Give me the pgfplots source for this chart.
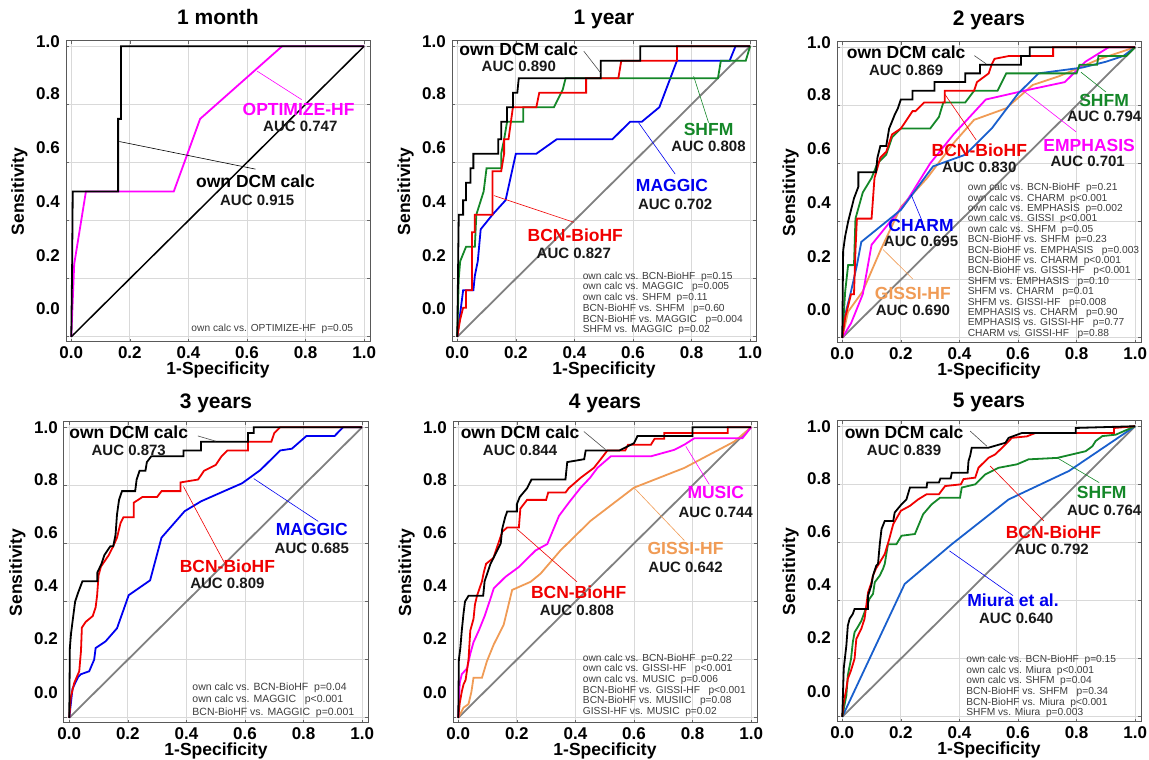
\documentclass[border=0pt]{standalone}
\usepackage{fontspec}
\setmainfont{Liberation Sans}
\usepackage{pgfplots}
\pgfplotsset{compat=1.18}

\definecolor{rocred}{RGB}{240,0,0}
\definecolor{rocgreen}{RGB}{20,135,40}
\definecolor{rocblue}{RGB}{0,0,240}
\definecolor{rocsteel}{RGB}{25,95,205}
\definecolor{rocmag}{RGB}{255,0,255}
\definecolor{rocorange}{RGB}{240,155,85}
\definecolor{rocgray}{RGB}{128,128,128}
\definecolor{ptext}{RGB}{60,60,60}

\newcommand{\ftick}{\fontsize{17}{17}\selectfont\bfseries}
\newcommand{\flabel}{\fontsize{17.5}{18}\selectfont\bfseries}
\newcommand{\ftitle}{\fontsize{21}{21}\selectfont\bfseries}

\tikzset{
  lblname/.style={font=\fontsize{17.5}{18}\selectfont\bfseries, inner sep=0pt},
  lblauc/.style={font=\fontsize{15}{16}\selectfont\bfseries, inner sep=0pt, text=black!90},
  ptxt/.style={font=\fontsize{10.2}{10.7}\selectfont, text=ptext, align=left, inner sep=0pt, anchor=north west},
  leader/.style={line width=0.6pt},
}

\pgfplotsset{
  roc/.style={
    scale only axis, width=304pt, height=301pt, anchor=south west,
    xmin=-0.018, xmax=1.02, ymin=-0.018, ymax=1.018,
    clip=false,
    axis line style={draw=black!65, line width=1pt},
    xtick={0,0.2,0.4,0.6,0.8,1}, xticklabels={0.0,0.2,0.4,0.6,0.8,1.0},
    ytick={0,0.2,0.4,0.6,0.8,1}, yticklabels={,,,,,},
    grid=major, major grid style={draw=black!15, line width=0.8pt},
    tick align=inside, major tick length=3pt,
    tick style={draw=black!60, line width=0.6pt},
    xticklabel style={font=\ftick, anchor=north, inner sep=0pt, yshift=-4.5pt},
    extra y tick labels={0.0,0.2,0.4,0.6,0.8,1.0},
    extra y tick style={grid=none, major tick length=0pt,
      yticklabel style={font=\ftick, anchor=east, inner sep=0pt, xshift=-6pt}},
    every axis plot/.append style={line width=1.8pt},
  },
  toprow/.style={extra y ticks={0.097,0.279,0.464,0.651,0.836,1.016}},
  bottomrow/.style={extra y ticks={0.087,0.272,0.456,0.638,0.819,1.0}},
}

\newcommand{\panellabels}[2]{%
  \node[font=\ftitle, anchor=base] at ([yshift=#2]rel axis cs:0.5,1) {#1};
  \node[font=\flabel, anchor=base] at ([yshift=-33pt]rel axis cs:0.5,0) {1-Specificity};
  \node[font=\flabel, anchor=base, rotate=90] at ([xshift=-42pt]rel axis cs:0,0.5) {Sensitivity};
}

\begin{document}
\begin{tikzpicture}

% ---------------- 1 month
\begin{axis}[roc, toprow, at={(66pt,418pt)}]
\addplot[black, line width=1.5pt] coordinates {(0,0) (1,1)};
\addplot[rocmag] coordinates {(0,0) (0.01,0.25) (0.05,0.5) (0.35,0.5) (0.44,0.75) (0.72,1) (1,1)};
\addplot[black] coordinates {(0,0) (0.003,0.25) (0.005,0.5) (0.16,0.5) (0.16,0.75) (0.17,0.75) (0.17,1) (1,1)};
\draw[rocmag, leader] (axis cs:0.635,0.914) -- (axis cs:0.787,0.816);
\draw[black, leader] (axis cs:0.164,0.672) -- (axis cs:0.629,0.577);
\node[lblname, text=rocmag] at (axis cs:0.776,0.784) {OPTIMIZE-HF};
\node[lblauc] at (axis cs:0.782,0.724) {AUC 0.747};
\node[lblname] at (axis cs:0.629,0.534) {own DCM calc};
\node[lblauc] at (axis cs:0.635,0.471) {AUC 0.915};
\node[ptxt, anchor=base east] at (axis cs:0.963,0.017) {own calc vs. OPTIMIZE-HF\ \ p=0.05};
\panellabels{1 month}{16pt}
\end{axis}

% ---------------- 1 year
\begin{axis}[roc, toprow, at={(452pt,418pt)}]
\addplot[rocgray] coordinates {(0,0) (1,1)};
\addplot[rocblue] coordinates {(0,0) (0.01,0.08) (0.02,0.16) (0.055,0.16) (0.06,0.21) (0.07,0.26) (0.08,0.37) (0.12,0.42) (0.165,0.47) (0.2,0.63) (0.27,0.63) (0.34,0.68) (0.53,0.68) (0.59,0.74) (0.63,0.74) (0.69,0.79) (0.75,0.95) (0.93,0.95) (0.95,1) (1,1)};
\addplot[rocgreen] coordinates {(0,0) (0.005,0.2) (0.01,0.26) (0.03,0.31) (0.06,0.31) (0.065,0.42) (0.09,0.5) (0.1,0.58) (0.15,0.58) (0.15,0.63) (0.16,0.68) (0.17,0.74) (0.225,0.74) (0.225,0.79) (0.33,0.79) (0.36,0.85) (0.37,0.89) (0.89,0.89) (0.9,0.95) (0.985,0.95) (1,1)};
\addplot[rocred] coordinates {(0,0) (0.01,0.06) (0.02,0.1) (0.03,0.1) (0.03,0.16) (0.05,0.16) (0.05,0.36) (0.06,0.36) (0.06,0.42) (0.12,0.42) (0.12,0.57) (0.15,0.57) (0.16,0.63) (0.16,0.68) (0.175,0.68) (0.19,0.79) (0.27,0.79) (0.28,0.84) (0.44,0.84) (0.44,0.89) (0.55,0.89) (0.56,0.95) (0.75,0.95) (0.75,1) (1,1)};
\addplot[black] coordinates {(0,0) (0.005,0.42) (0.02,0.42) (0.02,0.47) (0.03,0.47) (0.03,0.53) (0.045,0.53) (0.045,0.58) (0.055,0.58) (0.055,0.63) (0.14,0.63) (0.14,0.68) (0.15,0.68) (0.15,0.74) (0.17,0.74) (0.17,0.79) (0.19,0.79) (0.19,0.84) (0.205,0.84) (0.21,0.89) (0.49,0.89) (0.49,0.95) (0.625,0.95) (0.625,1) (1,1)};
\draw[black!70, leader] (axis cs:0.432,0.983) -- (axis cs:0.489,0.909);
\draw[rocgreen, leader] (axis cs:0.807,0.897) -- (axis cs:0.858,0.737);
\draw[rocblue, leader] (axis cs:0.619,0.737) -- (axis cs:0.744,0.56);
\draw[rocred, leader] (axis cs:0.125,0.486) -- (axis cs:0.398,0.394);
\node[lblname] at (axis cs:0.21,0.989) {own DCM calc};
\node[lblauc] at (axis cs:0.21,0.931) {AUC 0.890};
\node[lblname, text=rocgreen] at (axis cs:0.858,0.714) {SHFM};
\node[lblauc] at (axis cs:0.858,0.657) {AUC 0.808};
\node[lblname, text=rocblue] at (axis cs:0.733,0.52) {MAGGIC};
\node[lblauc] at (axis cs:0.744,0.457) {AUC 0.702};
\node[lblname, text=rocred] at (axis cs:0.403,0.349) {BCN-BioHF};
\node[lblauc] at (axis cs:0.398,0.286) {AUC 0.827};
\node[ptxt] at (axis cs:0.428,0.224) {own calc vs. BCN-BioHF\ \ p=0.15\\ own calc vs. MAGGIC\ \ \ p=0.005\\ own calc vs. SHFM\ \ p=0.11\\ BCN-BioHF vs. SHFM\ \ \ p=0.60\\ BCN-BioHF vs. MAGGIC\ \ \ p=0.004\\ SHFM vs. MAGGIC\ \ p=0.02};
\panellabels{1 year}{16pt}
\end{axis}

% ---------------- 2 years
\begin{axis}[roc, toprow, at={(837pt,417pt)}]
\addplot[rocgray] coordinates {(0,0) (1,1)};
\addplot[rocorange] coordinates {(0,0) (0.02,0.09) (0.07,0.16) (0.13,0.3) (0.2,0.45) (0.29,0.55) (0.38,0.67) (0.45,0.75) (0.56,0.79) (0.65,0.87) (0.74,0.9) (0.88,0.96) (1,1)};
\addplot[rocmag] coordinates {(0,0) (0.03,0.05) (0.07,0.15) (0.1,0.32) (0.22,0.47) (0.3,0.6) (0.38,0.7) (0.49,0.82) (0.62,0.85) (0.76,0.88) (0.83,0.95) (0.91,1) (1,1)};
\addplot[rocsteel] coordinates {(0,0) (0.01,0.08) (0.03,0.16) (0.05,0.25) (0.065,0.33) (0.2,0.44) (0.31,0.59) (0.42,0.63) (0.51,0.72) (0.6,0.84) (0.67,0.91) (0.82,0.93) (0.9,0.95) (0.96,0.97) (1,1)};
\addplot[rocgreen] coordinates {(0,0) (0.01,0.16) (0.02,0.25) (0.04,0.25) (0.045,0.41) (0.07,0.5) (0.1,0.55) (0.12,0.6) (0.15,0.63) (0.17,0.69) (0.2,0.72) (0.3,0.72) (0.33,0.76) (0.345,0.81) (0.42,0.81) (0.45,0.85) (0.53,0.85) (0.56,0.91) (0.8,0.91) (0.81,0.94) (0.87,0.94) (0.875,0.97) (0.97,0.97) (1,1)};
\addplot[rocred] coordinates {(0,0) (0.01,0.07) (0.02,0.11) (0.03,0.15) (0.04,0.15) (0.045,0.3) (0.05,0.41) (0.1,0.41) (0.11,0.55) (0.13,0.62) (0.15,0.64) (0.17,0.7) (0.2,0.72) (0.24,0.78) (0.25,0.78) (0.28,0.81) (0.35,0.81) (0.35,0.85) (0.45,0.85) (0.46,0.88) (0.5,0.91) (0.51,0.94) (0.52,0.96) (0.57,0.97) (0.72,0.97) (0.72,1) (1,1)};
\addplot[black] coordinates {(0,0) (0.003,0.3) (0.01,0.35) (0.02,0.4) (0.03,0.44) (0.04,0.48) (0.055,0.52) (0.055,0.57) (0.115,0.57) (0.12,0.62) (0.13,0.66) (0.15,0.66) (0.16,0.72) (0.18,0.77) (0.19,0.79) (0.2,0.82) (0.24,0.82) (0.24,0.85) (0.315,0.85) (0.315,0.88) (0.42,0.88) (0.42,0.91) (0.47,0.91) (0.47,0.94) (0.61,0.94) (0.61,0.97) (0.64,0.97) (0.64,1) (1,1)};
\draw[black!70, leader] (axis cs:0.451,0.971) -- (axis cs:0.491,0.943);
\draw[rocgreen, leader] (axis cs:0.815,0.914) -- (axis cs:0.9,0.846);
\draw[rocmag, leader] (axis cs:0.616,0.852) -- (axis cs:0.798,0.709);
\draw[rocred, leader] (axis cs:0.349,0.84) -- (axis cs:0.457,0.681);
\draw[rocblue, leader] (axis cs:0.235,0.493) -- (axis cs:0.275,0.396);
\draw[rocorange, leader] (axis cs:0.139,0.304) -- (axis cs:0.241,0.202);
\node[lblname] at (axis cs:0.218,0.983) {own DCM calc};
\node[lblauc] at (axis cs:0.218,0.92) {AUC 0.869};
\node[lblname, text=rocgreen] at (axis cs:0.894,0.818) {SHFM};
\node[lblauc] at (axis cs:0.894,0.763) {AUC 0.794};
\node[lblname, text=rocmag] at (axis cs:0.843,0.661) {EMPHASIS};
\node[lblauc] at (axis cs:0.838,0.607) {AUC 0.701};
\node[lblname, text=rocred] at (axis cs:0.468,0.647) {BCN-BioHF};
\node[lblauc] at (axis cs:0.468,0.587) {AUC 0.830};
\node[lblname, text=rocblue] at (axis cs:0.269,0.388) {CHARM};
\node[lblauc] at (axis cs:0.269,0.331) {AUC 0.695};
\node[lblname, text=rocorange] at (axis cs:0.241,0.153) {GISSI-HF};
\node[lblauc] at (axis cs:0.241,0.096) {AUC 0.690};
\node[ptxt, font=\fontsize{10.2}{10.4}\selectfont] at (axis cs:0.428,0.532) {own calc vs. BCN-BioHF\ \ p=0.21\\ own calc vs. CHARM\ \ p<0.001\\ own calc vs. EMPHASIS\ \ p=0.002\\ own calc vs. GISSI\ \ p<0.001\\ own calc vs. SHFM\ \ p=0.05\\ BCN-BioHF vs. SHFM\ \ p=0.23\\ BCN-BioHF vs. EMPHASIS\ \ \ p=0.003\\ BCN-BioHF vs. CHARM\ \ p<0.001\\ BCN-BioHF vs. GISSI-HF\ \ \ p<0.001\\ SHFM vs. EMPHASIS\ \ \ p=0.10\\ SHFM vs. CHARM\ \ \ p=0.01\\ SHFM vs. GISSI-HF\ \ \ p=0.008\\ EMPHASIS vs. CHARM\ \ \ p=0.90\\ EMPHASIS vs. GISSI-HF\ \ \ p=0.77\\ CHARM vs. GISSI-HF\ \ \ p=0.88};
\panellabels{2 years}{16pt}
\end{axis}

% ---------------- 3 years
\begin{axis}[roc, bottomrow, at={(64pt,37pt)}]
\addplot[rocgray] coordinates {(0,0) (1,1)};
\addplot[rocblue] coordinates {(0,0) (0.011,0.1) (0.03,0.14) (0.04,0.15) (0.068,0.16) (0.085,0.2) (0.09,0.24) (0.124,0.263) (0.163,0.308) (0.203,0.422) (0.276,0.473) (0.315,0.62) (0.394,0.711) (0.45,0.745) (0.54,0.785) (0.59,0.807) (0.653,0.853) (0.72,0.92) (0.76,0.926) (0.81,0.97) (0.906,0.97) (0.935,1) (1,1)};
\addplot[rocred] coordinates {(0,0) (0.005,0.07) (0.017,0.12) (0.034,0.16) (0.04,0.23) (0.043,0.31) (0.056,0.33) (0.08,0.35) (0.09,0.38) (0.095,0.42) (0.1,0.49) (0.108,0.52) (0.135,0.56) (0.15,0.59) (0.163,0.62) (0.175,0.67) (0.185,0.69) (0.22,0.69) (0.22,0.74) (0.25,0.76) (0.3,0.76) (0.315,0.78) (0.38,0.78) (0.38,0.81) (0.44,0.82) (0.46,0.85) (0.5,0.87) (0.52,0.9) (0.54,0.92) (0.61,0.92) (0.61,0.95) (0.69,0.95) (0.7,0.98) (0.72,1) (1,1)};
\addplot[black] coordinates {(0,0) (0.002,0.24) (0.006,0.29) (0.011,0.33) (0.02,0.4) (0.03,0.43) (0.045,0.47) (0.096,0.47) (0.096,0.5) (0.11,0.53) (0.12,0.56) (0.14,0.59) (0.15,0.59) (0.158,0.63) (0.163,0.7) (0.17,0.75) (0.18,0.78) (0.225,0.78) (0.23,0.82) (0.24,0.85) (0.26,0.85) (0.265,0.88) (0.28,0.9) (0.39,0.9) (0.39,0.92) (0.45,0.92) (0.45,0.95) (0.61,0.95) (0.61,0.98) (0.63,0.98) (0.63,1) (1,1)};
\draw[black!70, leader] (axis cs:0.439,0.97) -- (axis cs:0.5,0.952);
\draw[rocblue, leader] (axis cs:0.63,0.823) -- (axis cs:0.85,0.676);
\draw[rocred, leader] (axis cs:0.39,0.796) -- (axis cs:0.53,0.533);
\node[lblname] at (axis cs:0.203,0.983) {own DCM calc};
\node[lblauc] at (axis cs:0.203,0.92) {AUC 0.873};
\node[lblname, text=rocblue] at (axis cs:0.828,0.647) {MAGGIC};
\node[lblauc] at (axis cs:0.828,0.584) {AUC 0.685};
\node[lblname, text=rocred] at (axis cs:0.54,0.522) {BCN-BioHF};
\node[lblauc] at (axis cs:0.54,0.463) {AUC 0.809};
\node[ptxt, font=\fontsize{10.5}{12.5}\selectfont] at (axis cs:0.42,0.121) {own calc vs. BCN-BioHF\ \ p=0.04\\ own calc vs. MAGGIC\ \ \ p<0.001\\ BCN-BioHF vs. MAGGIC\ \ p=0.001};
\panellabels{3 years}{13pt}
\end{axis}

% ---------------- 4 years
\begin{axis}[roc, bottomrow, at={(453pt,37pt)}]
\addplot[rocgray] coordinates {(0,0) (1,1)};
\addplot[rocorange] coordinates {(0,0) (0.018,0.035) (0.035,0.047) (0.045,0.09) (0.052,0.138) (0.081,0.138) (0.098,0.195) (0.121,0.252) (0.155,0.32) (0.184,0.44) (0.247,0.468) (0.281,0.496) (0.349,0.576) (0.452,0.678) (0.6,0.792) (0.772,0.86) (0.943,0.951) (1,1)};
\addplot[rocmag] coordinates {(0,0) (0.005,0.12) (0.012,0.15) (0.03,0.17) (0.041,0.22) (0.052,0.26) (0.07,0.3) (0.09,0.35) (0.11,0.41) (0.121,0.445) (0.161,0.485) (0.207,0.519) (0.264,0.576) (0.304,0.598) (0.344,0.695) (0.378,0.741) (0.418,0.792) (0.45,0.826) (0.475,0.86) (0.521,0.9) (0.658,0.9) (0.737,0.922) (0.772,0.94) (0.806,0.962) (0.97,0.962) (1,1)};
\addplot[rocred] coordinates {(0,0) (0.005,0.05) (0.012,0.09) (0.018,0.115) (0.025,0.13) (0.035,0.2) (0.041,0.3) (0.052,0.34) (0.057,0.39) (0.064,0.42) (0.081,0.47) (0.087,0.5) (0.095,0.53) (0.12,0.55) (0.13,0.58) (0.15,0.64) (0.167,0.655) (0.207,0.655) (0.212,0.72) (0.235,0.75) (0.3,0.75) (0.307,0.775) (0.366,0.775) (0.377,0.79) (0.418,0.826) (0.463,0.86) (0.498,0.905) (0.509,0.92) (0.57,0.92) (0.58,0.94) (0.658,0.94) (0.67,0.96) (0.703,0.96) (0.703,0.98) (0.92,0.98) (0.92,1) (1,1)};
\addplot[black] coordinates {(0,0) (0.002,0.2) (0.007,0.24) (0.012,0.3) (0.018,0.36) (0.023,0.4) (0.035,0.42) (0.085,0.42) (0.09,0.47) (0.1,0.5) (0.11,0.53) (0.125,0.56) (0.135,0.58) (0.145,0.6) (0.15,0.65) (0.16,0.69) (0.167,0.71) (0.2,0.71) (0.2,0.735) (0.21,0.76) (0.235,0.79) (0.25,0.82) (0.366,0.82) (0.372,0.88) (0.43,0.89) (0.435,0.92) (0.55,0.92) (0.6,0.945) (0.612,0.97) (0.8,0.97) (0.8,1) (1,1)};
\draw[black!70, leader] (axis cs:0.429,0.985) -- (axis cs:0.503,0.923);
\draw[rocmag, leader] (axis cs:0.777,0.934) -- (axis cs:0.857,0.803);
\draw[rocorange, leader] (axis cs:0.6,0.792) -- (axis cs:0.772,0.61);
\draw[rocred, leader] (axis cs:0.2,0.65) -- (axis cs:0.405,0.468);
\node[lblname] at (axis cs:0.211,0.982) {own DCM calc};
\node[lblauc] at (axis cs:0.211,0.919) {AUC 0.844};
\node[lblname, text=rocmag] at (axis cs:0.879,0.775) {MUSIC};
\node[lblauc] at (axis cs:0.879,0.706) {AUC 0.744};
\node[lblname, text=rocorange] at (axis cs:0.776,0.581) {GISSI-HF};
\node[lblauc] at (axis cs:0.776,0.518) {AUC 0.642};
\node[lblname, text=rocred] at (axis cs:0.411,0.433) {BCN-BioHF};
\node[lblauc] at (axis cs:0.405,0.371) {AUC 0.808};
\node[ptxt] at (axis cs:0.425,0.221) {own calc vs. BCN-BioHF\ \ p=0.22\\ own calc vs. GISSI-HF\ \ \ p<0.001\\ own calc vs. MUSIC\ \ p=0.006\\ BCN-BioHF vs. GISSI-HF\ \ \ p<0.001\\ BCN-BioHF vs. MUSIIC\ \ \ p=0.08\\ GISSI-HF vs. MUSIC\ \ p=0.02};
\panellabels{4 years}{13pt}
\end{axis}

% ---------------- 5 years
\begin{axis}[roc, bottomrow, at={(837pt,38pt)}]
\addplot[rocgray] coordinates {(0,0) (1,1)};
\addplot[rocsteel] coordinates {(0,0) (0.213,0.457) (0.374,0.594) (0.568,0.748) (0.774,0.846) (1,1)};
\addplot[rocgreen] coordinates {(0,0) (0.014,0.074) (0.019,0.143) (0.03,0.2) (0.036,0.257) (0.042,0.291) (0.053,0.309) (0.065,0.33) (0.076,0.36) (0.093,0.406) (0.105,0.423) (0.111,0.463) (0.128,0.486) (0.139,0.509) (0.145,0.526) (0.156,0.594) (0.185,0.594) (0.202,0.623) (0.248,0.629) (0.276,0.697) (0.305,0.731) (0.334,0.754) (0.402,0.754) (0.408,0.789) (0.454,0.8) (0.488,0.834) (0.534,0.857) (0.597,0.869) (0.636,0.886) (0.734,0.891) (0.831,0.914) (0.854,0.931) (0.865,0.949) (0.888,0.966) (0.934,0.971) (1,1)};
\addplot[rocred] coordinates {(0,0) (0.005,0.05) (0.014,0.097) (0.019,0.131) (0.03,0.16) (0.042,0.2) (0.048,0.268) (0.065,0.303) (0.076,0.337) (0.088,0.428) (0.099,0.46) (0.105,0.486) (0.115,0.51) (0.128,0.531) (0.145,0.56) (0.16,0.61) (0.174,0.663) (0.2,0.709) (0.231,0.726) (0.259,0.748) (0.288,0.766) (0.33,0.766) (0.351,0.794) (0.405,0.8) (0.414,0.818) (0.454,0.823) (0.465,0.857) (0.499,0.891) (0.522,0.903) (0.55,0.93) (0.579,0.96) (0.63,0.965) (0.66,0.977) (0.928,0.977) (0.928,0.994) (1,1)};
\addplot[black] coordinates {(0,0) (0.003,0.1) (0.005,0.166) (0.014,0.246) (0.019,0.314) (0.025,0.337) (0.036,0.354) (0.042,0.371) (0.088,0.371) (0.088,0.417) (0.099,0.451) (0.105,0.486) (0.116,0.52) (0.122,0.526) (0.128,0.594) (0.134,0.646) (0.145,0.674) (0.174,0.674) (0.179,0.703) (0.202,0.731) (0.219,0.748) (0.231,0.789) (0.288,0.789) (0.29,0.806) (0.33,0.806) (0.335,0.82) (0.37,0.82) (0.374,0.84) (0.428,0.84) (0.431,0.88) (0.437,0.9) (0.442,0.926) (0.499,0.926) (0.557,0.943) (0.568,0.96) (0.614,0.977) (0.797,0.977) (0.797,0.994) (1,1)};
\draw[black!70, leader] (axis cs:0.437,0.983) -- (axis cs:0.494,0.931);
\draw[rocgreen, leader] (axis cs:0.734,0.891) -- (axis cs:0.877,0.806);
\draw[rocred, leader] (axis cs:0.505,0.863) -- (axis cs:0.688,0.674);
\draw[rocblue, leader] (axis cs:0.366,0.571) -- (axis cs:0.583,0.417);
\node[lblname] at (axis cs:0.211,0.979) {own DCM calc};
\node[lblauc] at (axis cs:0.211,0.918) {AUC 0.839};
\node[lblname, text=rocgreen] at (axis cs:0.886,0.771) {SHFM};
\node[lblauc] at (axis cs:0.894,0.711) {AUC 0.764};
\node[lblname, text=rocred] at (axis cs:0.721,0.634) {BCN-BioHF};
\node[lblauc] at (axis cs:0.715,0.577) {AUC 0.792};
\node[lblname, text=rocblue] at (axis cs:0.583,0.4) {Miura et al.};
\node[lblauc] at (axis cs:0.594,0.339) {AUC 0.640};
\node[ptxt] at (axis cs:0.423,0.213) {own calc vs. BCN-BioHF\ \ p=0.15\\ own calc vs. Miura\ \ p<0.001\\ own calc vs. SHFM\ \ p=0.04\\ BCN-BioHF vs. SHFM\ \ \ p=0.34\\ BCN-BioHF vs. Miura\ \ p<0.001\\ SHFM vs. Miura\ \ p=0.003};
\panellabels{5 years}{13pt}
\end{axis}

\pgfresetboundingbox
\path[use as bounding box] (0pt,0pt) rectangle (1149pt,760pt);
\end{tikzpicture}
\end{document}
